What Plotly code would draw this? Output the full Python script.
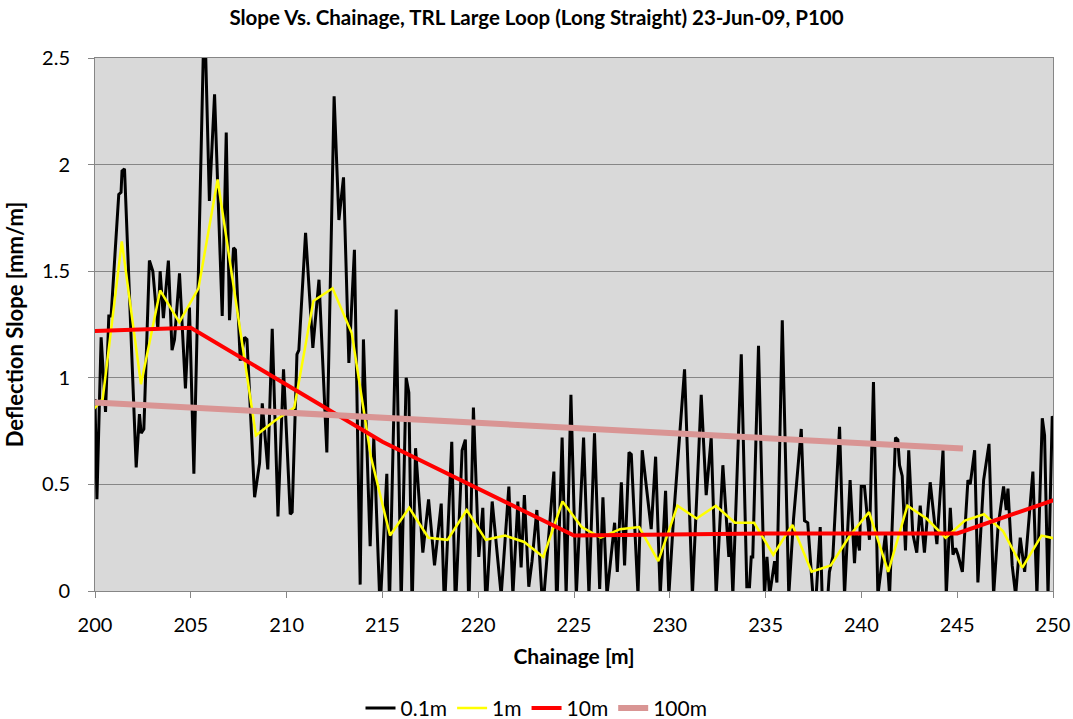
import plotly.graph_objects as go

# ---- 0.1 m slope trace (chainage, slope) ----
ch_01 = [200.00, 200.10, 200.32, 200.55, 200.72, 200.84, 201.24, 201.36, 201.41, 201.54,
         202.15, 202.32, 202.41, 202.55, 202.84, 203.02, 203.28, 203.40, 203.57, 203.83,
         204.02, 204.15, 204.41, 204.72, 204.93, 205.16, 205.71, 205.97, 206.24, 206.64,
         206.85, 207.02, 207.23, 207.33, 207.58, 207.81, 207.93, 208.33, 208.59, 208.73,
         209.02, 209.25, 209.55, 209.84, 210.19, 210.29, 210.54, 210.64, 210.99, 211.37,
         211.69, 212.10, 212.48, 212.73, 212.97, 213.25, 213.54, 213.84, 214.01, 214.36,
         214.55, 214.88, 215.23, 215.37, 215.72, 215.98, 216.24, 216.38, 216.55, 216.73,
         217.11, 217.41, 217.72, 218.07, 218.24, 218.62, 218.81, 219.16, 219.33, 219.51,
         219.75, 220.03, 220.24, 220.41, 220.73, 221.20, 221.60, 221.81, 222.07, 222.24,
         222.41, 222.64, 222.81, 223.06, 223.37, 223.95, 224.10, 224.38, 224.59, 224.84,
         225.12, 225.50, 225.78, 226.07, 226.34, 226.51, 226.72, 227.12, 227.26, 227.47,
         227.64, 227.87, 227.99, 228.34, 228.56, 229.03, 229.26, 229.50, 229.78, 229.95,
         230.20, 230.77, 231.18, 231.64, 231.90, 232.16, 232.42, 232.77, 233.08, 233.15,
         233.29, 233.65, 233.73, 234.02, 234.16, 234.25, 234.33, 234.63, 234.94, 235.07,
         235.21, 235.47, 235.59, 235.87, 236.21, 236.46, 236.86, 237.03, 237.20, 237.47,
         237.64, 237.85, 237.95, 238.25, 238.33, 238.51, 238.86, 239.12, 239.41, 239.64,
         239.73, 239.90, 239.99, 240.16, 240.42, 240.63, 240.86, 241.26, 241.47, 241.78,
         241.90, 241.99, 242.13, 242.30, 242.47, 242.68, 242.89, 243.07, 243.29, 243.59,
         243.94, 244.26, 244.43, 244.64, 244.78, 244.92, 245.04, 245.27, 245.56, 245.68,
         245.91, 246.08, 246.38, 246.66, 246.90, 247.13, 247.42, 247.56, 247.65, 247.87,
         248.05, 248.29, 248.52, 248.95, 249.16, 249.44, 249.56, 249.74, 249.96, 250.00]
slope_01 = [0.90, 0.43, 1.19, 0.84, 1.29, 1.29, 1.86, 1.87, 1.97, 1.98,
            0.58, 0.83, 0.74, 0.76, 1.55, 1.50, 1.23, 1.50, 1.28, 1.55,
            1.13, 1.18, 1.49, 0.95, 1.33, 0.55, 2.75, 1.83, 2.33, 1.29,
            2.15, 1.27, 1.61, 1.60, 1.08, 1.19, 1.18, 0.44, 0.60, 0.88,
            0.57, 1.23, 0.35, 1.04, 0.36, 0.37, 1.11, 1.13, 1.68, 1.14,
            1.46, 0.65, 2.32, 1.74, 1.94, 1.07, 1.60, 0.03, 1.18, 0.21,
            0.72, -0.09, 0.55, -0.06, 1.32, -0.06, 1.00, 0.93, -0.09, 0.67,
            0.18, 0.43, 0.12, 0.41, -0.09, 0.70, -0.09, 0.66, 0.71, -0.09,
            0.86, 0.16, 0.39, -0.09, 0.42, -0.02, 0.49, -0.02, 0.42, 0.11,
            0.45, 0.02, 0.14, 0.38, -0.09, 0.56, -0.09, 0.72, -0.02, 0.92,
            -0.02, 0.72, -0.02, 0.74, 0.01, 0.44, -0.02, 0.32, 0.09, 0.51,
            0.12, 0.65, 0.64, -0.02, 0.66, 0.29, 0.63, -0.02, 0.47, -0.02,
            0.35, 1.04, -0.02, 0.92, 0.45, 0.72, -0.02, 0.59, 0.16, 0.32,
            -0.02, 0.95, 1.11, 0.02, 0.02, 0.16, 0.16, 1.15, -0.02, 0.16,
            -0.02, 0.14, 0.04, 1.27, -0.02, 0.34, 0.76, 0.33, 0.32, -0.02,
            -0.02, 0.30, -0.02, -0.02, 0.09, 0.16, 0.77, -0.02, 0.52, 0.13,
            0.27, 0.19, 0.49, 0.49, 0.24, 0.98, -0.02, 0.27, -0.02, 0.72,
            0.71, 0.59, 0.54, 0.19, 0.66, 0.27, 0.18, 0.40, 0.18, 0.51,
            0.22, 0.66, -0.02, 0.39, 0.17, 0.20, 0.17, 0.09, 0.52, 0.50,
            0.66, 0.04, 0.52, 0.69, -0.02, 0.30, 0.49, 0.38, 0.48, 0.12,
            -0.02, 0.25, 0.09, 0.56, -0.02, 0.81, 0.73, -0.02, 0.82, 0.81]

# ---- 1 m averaged slope ----
ch_1 = [199.4, 200.4, 201.4, 202.4, 203.4, 204.4, 205.4, 206.4, 207.4, 208.4,
        209.4, 210.4, 211.4, 212.4, 213.4, 214.4, 215.4, 216.4, 217.4, 218.4,
        219.4, 220.4, 221.4, 222.4, 223.4, 224.4, 225.4, 226.4, 227.4, 228.4,
        229.4, 230.4, 231.4, 232.4, 233.4, 234.4, 235.4, 236.4, 237.4, 238.4,
        239.4, 240.4, 241.4, 242.4, 243.4, 244.4, 245.4, 246.4, 247.4, 248.4,
        249.4, 250.4]
slope_1 = [0.80, 0.90, 1.64, 0.97, 1.41, 1.26, 1.42, 1.93, 1.33, 0.73,
           0.80, 0.86, 1.36, 1.42, 1.21, 0.63, 0.26, 0.39, 0.25, 0.24,
           0.38, 0.24, 0.26, 0.23, 0.16, 0.42, 0.30, 0.25, 0.29, 0.30,
           0.14, 0.40, 0.34, 0.40, 0.32, 0.32, 0.17, 0.31, 0.09, 0.12,
           0.26, 0.37, 0.09, 0.40, 0.34, 0.25, 0.33, 0.36, 0.28, 0.11,
           0.26, 0.24]

# ---- 10 m averaged slope ----
ch_10 = [195, 205, 215, 225, 235, 245, 255]
slope_10 = [1.205, 1.235, 0.70, 0.26, 0.27, 0.27, 0.58]

# ---- 100 m averaged slope ----
ch_100 = [195.3, 205.3, 215.3, 225.3, 235.3, 245.3]
slope_100 = [0.907, 0.860, 0.812, 0.765, 0.717, 0.668]

FONT = "Lato"

fig = go.Figure()
fig.add_trace(go.Scatter(x=ch_01, y=slope_01, mode="lines", name="0.1m",
                         line=dict(color="#000000", width=3)))
fig.add_trace(go.Scatter(x=ch_1, y=slope_1, mode="lines", name="1m",
                         line=dict(color="#ffff00", width=2.5)))
fig.add_trace(go.Scatter(x=ch_10, y=slope_10, mode="lines", name="10m",
                         line=dict(color="#ff0000", width=4)))
fig.add_trace(go.Scatter(x=ch_100, y=slope_100, mode="lines", name="100m",
                         line=dict(color="#d99594", width=6)))

fig.update_layout(
    width=1073, height=719,
    margin=dict(l=95, r=20, t=58, b=128, autoexpand=False),
    paper_bgcolor="white",
    plot_bgcolor="#d9d9d9",
    font=dict(family=FONT, color="#000000", size=20),
    title=dict(text="<b>Slope Vs. Chainage, TRL Large Loop (Long Straight) 23-Jun-09, P100</b>",
               x=0.5, xanchor="center", y=0.975, yanchor="middle",
               font=dict(family=FONT, size=20.5)),
    xaxis=dict(range=[200, 250], dtick=5, tick0=200,
               showgrid=False, zeroline=False,
               showline=True, linecolor="#868686", linewidth=1, mirror=True,
               ticks="outside", ticklen=6, tickcolor="#868686",
               tickfont=dict(size=20), ticklabelstandoff=10,
               title=dict(text="<b>Chainage [m]</b>", font=dict(size=21), standoff=14)),
    yaxis=dict(range=[0, 2.5], dtick=0.5, tick0=0,
               showgrid=True, gridcolor="#868686", gridwidth=1,
               zeroline=False,
               showline=True, linecolor="#868686", linewidth=1, mirror=True,
               ticks="outside", ticklen=6, tickcolor="#868686",
               tickfont=dict(size=20), ticklabelstandoff=14,
               title=dict(text="<b>Deflection Slope [mm/m]</b>", font=dict(size=22), standoff=12)),
    legend=dict(orientation="h", xref="container", x=0.5, xanchor="center",
                y=-0.22, yanchor="middle",
                font=dict(size=21), bgcolor="rgba(0,0,0,0)", itemwidth=30,
                traceorder="normal"),
    showlegend=True,
)

fig.write_html("out.html")
